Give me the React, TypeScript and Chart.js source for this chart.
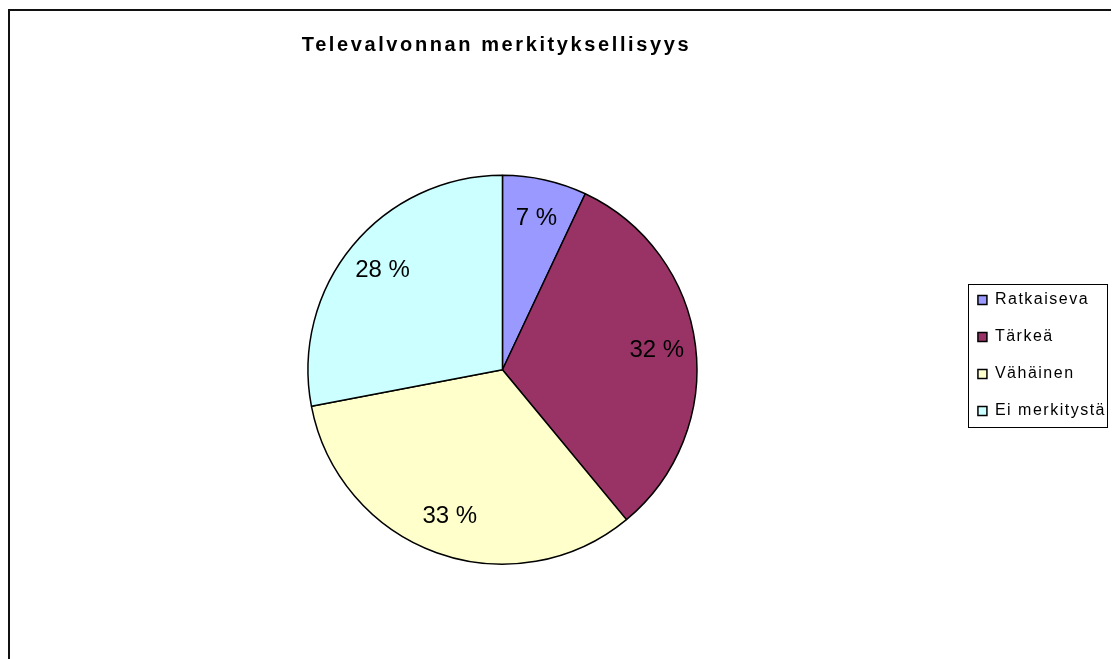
import React, { useEffect, useRef } from "react";
import { Chart, registerables } from "chart.js";

Chart.register(...registerables);

const titleText = "Televalvonnan merkityksellisyys";
const categories = ["Ratkaiseva", "Tärkeä", "Vähäinen", "Ei merkitystä"];
const values = [7, 32, 33, 28];
const colors = ["#9999FF", "#993366", "#FFFFCC", "#CCFFFF"];

const FONT = '"Liberation Sans", Arial, Helvetica, sans-serif';

const spacingPlugin = {
  id: "spacingPlugin",
  beforeUpdate(chart: any) {
    chart.ctx.letterSpacing = "1.5px";
    const tb = chart.titleBlock;
    if (tb && !tb.__patched) {
      const orig = tb.draw.bind(tb);
      tb.draw = (...args: any[]) => {
        const c = chart.ctx;
        c.save();
        c.letterSpacing = "2.6px";
        c.translate(-6, 0);
        orig(...args);
        c.restore();
      };
      tb.__patched = true;
    }
  },
};

const labelPlugin = {
  id: "pieLabels",
  afterDatasetsDraw(chart: any) {
    const meta = chart.getDatasetMeta(0);
    const ctx = chart.ctx;
    ctx.save();
    ctx.letterSpacing = "0px";
    ctx.font = `24px ${FONT}`;
    ctx.fillStyle = "#000";
    ctx.textAlign = "center";
    ctx.textBaseline = "middle";
    meta.data.forEach((arc: any, i: number) => {
      const p = arc.getProps(["x", "y", "startAngle", "endAngle", "outerRadius"], true);
      const mid = (p.startAngle + p.endAngle) / 2;
      const r = p.outerRadius * 0.8;
      ctx.fillText(`${values[i]} %`, p.x + Math.cos(mid) * r, p.y + Math.sin(mid) * r);
    });
    ctx.restore();
  },
};

const legendBoxPlugin = {
  id: "legendBox",
  afterDraw(chart: any) {
    const lg = chart.legend;
    if (!lg || !lg.legendHitBoxes || !lg.legendHitBoxes.length) return;
    const hb = lg.legendHitBoxes;
    const left = Math.round(hb[0].left - 10) + 0.5;
    const top = Math.round(hb[0].top - 8) + 0.5;
    let right = 0;
    hb.forEach((h: any) => {
      right = Math.max(right, h.left + h.width);
    });
    right = Math.round(right + 1) + 0.5;
    const last = hb[hb.length - 1];
    const bottom = Math.round(last.top + last.height + 8) + 0.5;
    const ctx = chart.ctx;
    ctx.save();
    ctx.strokeStyle = "#000";
    ctx.lineWidth = 1;
    ctx.strokeRect(left, top, right - left, bottom - top);
    ctx.restore();
  },
};

export default function App() {
  const ref = useRef<HTMLCanvasElement>(null);

  useEffect(() => {
    document.documentElement.style.overflow = "hidden";
    const canvas = ref.current;
    if (!canvas) return;
    const chart = new Chart(canvas, {
      type: "pie",
      data: {
        labels: categories,
        datasets: [
          {
            data: values,
            backgroundColor: colors,
            borderColor: "#000",
            borderWidth: 1.5,
            hoverBorderWidth: 1.5,
            hoverOffset: 0,
          },
        ],
      },
      options: {
        animation: false,
        responsive: false,
        devicePixelRatio: 1,
        color: "#000",
        font: { family: FONT },
        layout: { padding: { left: 38, right: 0, top: 0, bottom: 94 } },
        plugins: {
          tooltip: { enabled: false },
          title: {
            display: true,
            text: titleText,
            color: "#000",
            fullSize: false,
            font: { family: FONT, size: 20, weight: "bold", lineHeight: 1.2 },
            padding: { top: 22, bottom: 117.5 },
          },
          legend: {
            display: true,
            position: "right",
            align: "start",
            fullSize: false,
            title: {
              display: true,
              text: "",
              font: { size: 10, lineHeight: 1.2 },
              padding: { top: 84.5, bottom: 0 },
            },
            labels: {
              boxWidth: 9,
              boxHeight: 9,
              padding: 21,
              color: "#000",
              font: { family: FONT, size: 16 },
            },
          },
        },
      },
      plugins: [spacingPlugin, labelPlugin, legendBoxPlugin],
    });
    return () => chart.destroy();
  }, []);

  return (
    <div
      style={{
        marginTop: 1,
        width: 1106,
        height: 670,
        border: "2px solid #111",
        background: "#fff",
      }}
    >
      <canvas ref={ref} width={1106} height={648} style={{ display: "block" }} />
    </div>
  );
}
